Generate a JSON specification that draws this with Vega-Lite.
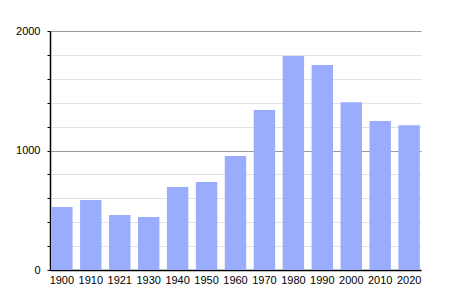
{
  "$schema": "https://vega.github.io/schema/vega-lite/v6.json",
  "width": 371,
  "height": 239,
  "autosize": {"type": "none"},
  "padding": {"left": 50, "top": 31, "right": 29, "bottom": 30},
  "background": "white",
  "config": {"view": {"stroke": null}, "font": "Liberation Sans"},
  "data": {"values": [
    {"year": "1900", "pop": 527},
    {"year": "1910", "pop": 586},
    {"year": "1921", "pop": 460},
    {"year": "1930", "pop": 443},
    {"year": "1940", "pop": 695},
    {"year": "1950", "pop": 736},
    {"year": "1960", "pop": 954},
    {"year": "1970", "pop": 1339},
    {"year": "1980", "pop": 1791},
    {"year": "1990", "pop": 1715},
    {"year": "2000", "pop": 1404},
    {"year": "2010", "pop": 1247},
    {"year": "2020", "pop": 1212}
  ]},
  "mark": {"type": "bar", "color": "#9aacfc"},
  "encoding": {
    "x": {
      "field": "year", "type": "ordinal", "sort": null,
      "scale": {"paddingInner": 0.26, "paddingOuter": 0.04},
      "axis": {"title": null, "labelAngle": 0, "ticks": false, "domainColor": "#000", "domainWidth": 1.5, "labelColor": "#000", "labelFontSize": 11, "labelPadding": 4, "grid": false}
    },
    "y": {
      "field": "pop", "type": "quantitative",
      "scale": {"domain": [0, 2000], "nice": false},
      "axis": {
        "title": null,
        "values": [0, 200, 400, 600, 800, 1000, 1200, 1400, 1600, 1800, 2000],
        "labelExpr": "datum.value % 1000 === 0 ? datum.value : ''",
        "domainColor": "#000", "domainWidth": 1.5,
        "tickColor": "#000", "tickSize": 3,
        "labelColor": "#000", "labelFontSize": 11, "labelPadding": 7,
        "gridColor": {"condition": {"test": "datum.value % 1000 === 0", "value": "#9a9a9a"}, "value": "#e2e2e2"}
      }
    }
  }
}
